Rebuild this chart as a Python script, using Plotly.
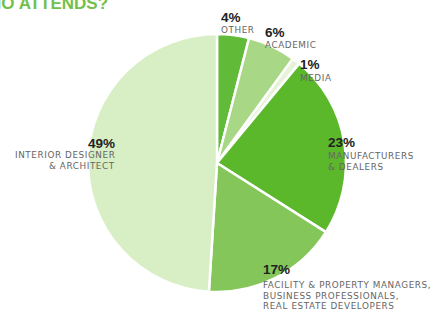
import plotly.graph_objects as go

categories = ["OTHER", "ACADEMIC", "MEDIA", "MANUFACTURERS<br>& DEALERS",
              "FACILITY & PROPERTY MANAGERS,<br>BUSINESS PROFESSIONALS,<br>REAL ESTATE DEVELOPERS",
              "INTERIOR DESIGNER<br>& ARCHITECT"]
shares = [4, 6, 1, 23, 17, 49]
slice_colors = ["#62bb38", "#a8d785", "#e6f3d9", "#5cb82b", "#84c65a", "#d8eec4"]
title_text = "WHO ATTENDS?"

W, H = 440, 315
cx, cy, r = 217, 163, 129

fig = go.Figure(go.Pie(
    values=shares, labels=categories, sort=False, direction="clockwise", rotation=0,
    marker=dict(colors=slice_colors, line=dict(color="white", width=2.5)),
    textinfo="none", hoverinfo="label+percent", showlegend=False,
    domain=dict(x=[(cx - r) / W, (cx + r) / W], y=[1 - (cy + r) / H, 1 - (cy - r) / H]),
))

# label layout (pixels): anchor x, cap-centre y of the percent, first name line y, alignment
label_pos = [(219, 17.5, 29.5, "left"), (263, 33, 45, "left"), (298, 65, 78, "left"),
             (326, 142.5, 156, "left"), (261, 269, 285, "left"), (117, 144, 155, "right")]
line_gap = 10.5

FONT = "DejaVu Sans, Arial, sans-serif"
annotations = []
for name, v, (px, py, ny, al) in zip(categories, shares, label_pos):
    annotations.append(dict(
        x=px / W, y=1 - py / H, xref="paper", yref="paper", xanchor=al, yanchor="middle",
        showarrow=False, text=f"<b>{v}%</b>",
        font=dict(family="Liberation Sans, Arial, sans-serif", size=13.5, color="#222"),
    ))
    for i, line in enumerate(name.split("<br>")):
        annotations.append(dict(
            x=px / W, y=1 - (ny + i * line_gap) / H, xref="paper", yref="paper",
            xanchor=al, yanchor="middle", showarrow=False,
            text=f"<span style='letter-spacing:0.6px'>{line}</span>",
            font=dict(family=FONT, size=8.8, color="#666"),
        ))

annotations.append(dict(
    x=110 / W, y=1 - 4 / H, xref="paper", yref="paper", xanchor="right", yanchor="middle",
    showarrow=False, text=f"<b>{title_text}</b>",
    font=dict(family="Liberation Sans, Arial, sans-serif", size=17, color="#72c04a"),
))

fig.update_layout(
    width=W, height=H, margin=dict(l=0, r=0, t=0, b=0),
    paper_bgcolor="white", plot_bgcolor="white", annotations=annotations,
)
fig.write_html("out.html", config={"displayModeBar": False},
               post_script="document.body.style.margin='0';")
